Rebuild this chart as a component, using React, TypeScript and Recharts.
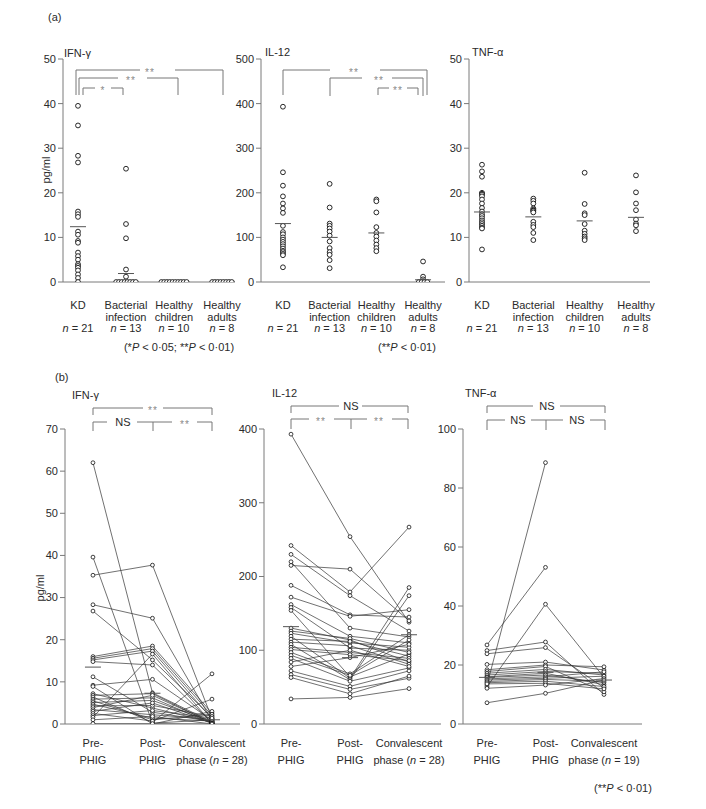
import React from 'react';
import { ComposedChart, Line, Scatter, XAxis, YAxis } from 'recharts';

const FONT = '"Liberation Sans", Arial, Helvetica, sans-serif';
const AXIS = '#7a7a7a';
const INK = '#2a2a2a';

// ---- (a) group comparison ----
const groupRows = [
    ['KD', '', 'n = 21'],
    ['Bacterial', 'infection', 'n = 13'],
    ['Healthy', 'children', 'n = 10'],
    ['Healthy', 'adults', 'n = 8'],
];

const ifnKD = [39.5, 35.1, 28.3, 26.8, 15.8, 15.2, 14.6, 11.3, 10.6, 9.2, 8.8, 6.6, 5.8, 5.0, 4.0, 3.6, 3.2, 2.6, 1.7, 0.9, 0];
const ifnBact = [25.4, 13.0, 9.8, 2.8, 1.2, 0, 0, 0, 0, 0, 0, 0, 0];
const ifnChild = [0, 0, 0, 0, 0, 0, 0, 0, 0, 0];
const ifnAdult = [0, 0, 0, 0, 0, 0, 0, 0];
const ifnMid = [12.4, 1.9, null, null];

const il12KD = [393, 246, 216, 192, 176, 165, 155, 126, 112, 107, 100, 95, 90, 85, 80, 75, 70, 67, 63, 60, 33];
const il12Bact = [220, 167, 131, 126, 120, 113, 104, 91, 76, 67, 61, 49, 31];
const il12Child = [185, 181, 156, 123, 110, 102, 93, 84, 76, 69];
const il12Adult = [46, 12, 6, 2, 0, 0, 0, 0];
const il12Mid = [131, 100, 110, 5];

const tnfKD = [26.3, 24.8, 23.6, 20.0, 19.8, 19.6, 19.2, 18.5, 17.6, 16.6, 15.8, 15.2, 14.8, 14.3, 13.8, 13.4, 13.0, 12.6, 12.2, 12.0, 7.3];
const tnfBact = [18.7, 18.2, 17.6, 16.5, 16.2, 16.0, 15.9, 15.6, 13.5, 12.8, 12.3, 11.0, 9.4];
const tnfChild = [24.5, 17.5, 15.4, 15.0, 13.0, 11.5, 10.8, 10.2, 9.8, 9.4];
const tnfAdult = [23.9, 20.1, 17.6, 16.1, 14.0, 13.1, 12.7, 11.4];
const tnfMid = [15.7, 14.6, 13.7, 14.5];

// ---- (b) PHIG time course ----
const phigRows = [
    ['Pre-', 'PHIG'],
    ['Post-', 'PHIG'],
    ['Convalescent', 'phase (n = 28)'],
];
const phigRows19 = [
    ['Pre-', 'PHIG'],
    ['Post-', 'PHIG'],
    ['Convalescent', 'phase (n = 19)'],
];

const ifnPre = [62.0, 39.6, 35.3, 28.3, 26.8, 16.0, 15.6, 15.2, 14.8, 11.2, 9.2, 8.9, 7.2, 6.8, 6.4, 5.9, 5.5, 5.1, 4.7, 4.3, 3.9, 3.4, 3.0, 2.5, 2.0, 1.6, 1.0, 0.1];
const ifnPost = [7.4, 0.2, 37.7, 25.1, 15.2, 18.5, 17.9, 17.3, 14.0, 2.8, 10.6, 0.0, 3.8, 7.2, 0.4, 6.2, 1.0, 5.6, 1.4, 4.4, 6.8, 2.2, 5.0, 0.7, 3.2, 16.6, 1.8, 0.1];
const ifnConv = [0.5, 1.0, 1.3, 0.8, 1.6, 2.6, 2.0, 1.2, 0.3, 0.6, 0.9, 3.0, 0.4, 0.2, 11.9, 0.1, 2.3, 0.5, 0.7, 1.8, 0.3, 1.1, 0.2, 5.9, 1.4, 0.1, 0, 0];
const ifnPhigMid = [13.5, 7.3, 1.0];

const il12Pre = [393, 242, 230, 220, 215, 188, 172, 162, 158, 154, 130, 126, 123, 119, 115, 111, 108, 104, 101, 97, 93, 89, 84, 78, 72, 67, 63, 34];
const il12Post = [254, 179, 174, 130, 210, 148, 146, 119, 103, 64, 114, 116, 110, 62, 112, 106, 60, 97, 94, 68, 66, 58, 100, 90, 51, 47, 41, 36];
const il12Conv = [138, 267, 126, 118, 140, 145, 155, 110, 100, 95, 84, 97, 104, 185, 92, 81, 174, 89, 86, 121, 114, 76, 78, 108, 72, 62, 65, 48];
const il12PhigMid = [132, 90, 121];

const tnfPre = [13.2, 26.8, 12.6, 24.9, 23.8, 20.2, 18.4, 17.8, 17.2, 16.6, 16.0, 15.8, 15.3, 14.9, 14.4, 14.0, 13.6, 12.1, 7.2];
const tnfPost = [88.6, 53.1, 40.6, 27.8, 25.9, 21.0, 20.0, 19.5, 18.5, 17.8, 17.2, 16.6, 16.0, 15.5, 15.1, 14.5, 13.8, 13.2, 10.4];
const tnfConv = [null, null, 15.8, 10.0, 12.3, 18.3, 19.4, 10.9, 16.6, 17.2, 13.3, 14.0, 17.7, 16.2, 14.5, 12.7, 11.9, 15.4, 14.9];
const tnfPhigMid = [15.8, 17.5, 14.9];

// significance brackets (annotation, page pixels)
const brackets = [
    { y: 70, drop: 95, ends: [76, 223], segs: [[76, 140], [175, 223]], labels: [[150, '**']] },
    { y: 78, drop: 95, ends: [79, 178], segs: [[79, 118], [147, 178]], labels: [[131, '**']] },
    { y: 88, drop: 95, ends: [83, 123], segs: [[83, 95], [111, 123]], labels: [[103, '*']] },
    { y: 70, drop: 95, ends: [283, 427], segs: [[283, 330], [380, 427]], labels: [[354, '**']] },
    { y: 78, drop: 96, ends: [330, 423], segs: [[330, 362], [392, 423]], labels: [[379, '**']] },
    { y: 88, drop: 95, ends: [378, 418], segs: [[378, 389], [407, 418]], labels: [[398, '**']] },
    { y: 408, drop: 415, ends: [93, 212], segs: [[93, 143], [163, 212]], labels: [[153, '**']] },
    { y: 422, drop: 431, ends: [93, 153, 212], segs: [[93, 107], [137, 172], [197, 212]], labels: [[123, 'NS'], [185, '**']] },
    { y: 406, drop: 413, ends: [291, 408], segs: [[291, 339], [362, 408]], labels: [[351, 'NS']] },
    { y: 419, drop: 429, ends: [291, 351, 408], segs: [[291, 309], [334, 367], [392, 408]], labels: [[321, '**'], [379, '**']] },
    { y: 406, drop: 413, ends: [487, 605], segs: [[487, 533], [560, 605]], labels: [[547, 'NS']] },
    { y: 420, drop: 430, ends: [487, 546, 605], segs: [[487, 505], [531, 563], [590, 605]], labels: [[518, 'NS'], [577, 'NS']] },
];

const notes = [
    { x: 48, y: 21, s: '(a)', a: 'start' },
    { x: 64, y: 57, s: 'IFN-γ', a: 'start' },
    { x: 265, y: 56, s: 'IL-12', a: 'start' },
    { x: 472, y: 56, s: 'TNF-α', a: 'start' },
    { x: 179, y: 351, s: '(*P < 0·05; **P < 0·01)', a: 'middle' },
    { x: 407, y: 351, s: '(**P < 0·01)', a: 'middle' },
    { x: 55, y: 381, s: '(b)', a: 'start' },
    { x: 72, y: 399, s: 'IFN-γ', a: 'start' },
    { x: 272, y: 397, s: 'IL-12', a: 'start' },
    { x: 465, y: 397, s: 'TNF-α', a: 'start' },
    { x: 623, y: 792, s: '(**P < 0·01)', a: 'middle' },
];

const rich = (s: string) =>
    s.split(/(\bn\b|\bP\b)/).map((part, i) =>
        part === 'n' || part === 'P' ? (
            <tspan key={i} fontStyle="italic">{part}</tspan>
        ) : (
            <tspan key={i}>{part}</tspan>
        ),
    );

const toPoints = (groups: number[][]) =>
    groups.flatMap((vals, i) =>
        vals.map((v, j) => ({
            x: i,
            y: v,
            k: vals.slice(0, j).filter((w) => w === v).length,
            m: vals.filter((w) => w === v).length,
        })),
    );

const toMid = (vals: (number | null)[]) =>
    vals.map((v, i) => ({ x: i, y: v })).filter((d) => d.y !== null);

const Ring = (p: any) => {
    const { cx, cy, payload } = p;
    const dx = payload.m > 1 ? (payload.k - (payload.m - 1) / 2) * 2.8 : 0;
    return <circle cx={cx + dx} cy={cy} r={2.4} fill="#fff" stroke="#111" strokeWidth={0.9} />;
};

const Dash = (p: any) => (
    <line x1={p.cx - 8} x2={p.cx + 8} y1={p.cy} y2={p.cy} stroke="#555" strokeWidth={1} />
);

const CatTick = (p: any) => {
    const rows: string[] = p.rows[p.payload.value] || [];
    return (
        <g>
            {rows.map((r, i) => (
                <text key={i} x={p.x} y={p.y + p.start + i * p.gap} textAnchor="middle" fontSize={11} fontFamily={FONT} fill={INK}>
                    {rich(r)}
                </text>
            ))}
        </g>
    );
};

const YW = 40;
const MT = 10;
const MR = 10;
const XH = 60;

interface FrameProps {
    box: { l: number; t: number; r: number; b: number };
    xDomain: [number, number];
    xTicks: number[];
    yTicks: number[];
    rows: string[][];
    start: number;
    gap: number;
    children: React.ReactNode;
}

const Frame = ({ box, xDomain, xTicks, yTicks, rows, start, gap, children }: FrameProps) => (
    <div style={{ position: 'absolute', left: box.l - YW, top: box.t - MT }}>
        <ComposedChart
            width={box.r - box.l + YW + MR}
            height={box.b - box.t + MT + XH}
            margin={{ top: MT, right: MR, bottom: 0, left: 0 }}
        >
            <XAxis
                type="number"
                dataKey="x"
                domain={xDomain}
                ticks={xTicks}
                interval={0}
                allowDataOverflow
                height={XH}
                tickLine={false}
                tickSize={0}
                tickMargin={0}
                axisLine={{ stroke: AXIS }}
                tick={(t: any) => <CatTick {...t} rows={rows} start={start} gap={gap} />}
            />
            <YAxis
                type="number"
                dataKey="y"
                domain={[yTicks[0], yTicks[yTicks.length - 1]]}
                ticks={yTicks}
                interval={0}
                allowDataOverflow
                width={YW}
                tickSize={5}
                tickLine={{ stroke: AXIS }}
                axisLine={{ stroke: AXIS }}
                tick={{ fill: INK, fontSize: 11, fontFamily: FONT }}
            />
            {children}
        </ComposedChart>
    </div>
);

const dotPanel = (groups: number[][], mids: (number | null)[]) => [
    <Scatter key="pts" data={toPoints(groups)} dataKey="y" shape={Ring} isAnimationActive={false} />,
    <Scatter key="mid" data={toMid(mids)} dataKey="y" shape={Dash} isAnimationActive={false} />,
];

const pairPanel = (pre: number[], post: number[], conv: (number | null)[], mids: number[]) => [
    ...pre.map((v, i) => (
        <Line
            key={`s${i}`}
            data={[{ x: 0, y: v }, { x: 1, y: post[i] }, { x: 2, y: conv[i] }]}
            dataKey="y"
            type="linear"
            stroke="#333"
            strokeWidth={0.7}
            dot={{ r: 1.9, fill: '#fff', stroke: '#111', strokeWidth: 0.8 }}
            activeDot={false}
            isAnimationActive={false}
        />
    )),
    <Scatter key="mid" data={toMid(mids)} dataKey="y" shape={Dash} isAnimationActive={false} />,
];

const Overlay = () => (
    <svg width={706} height={809} style={{ position: 'absolute', left: 0, top: 0, pointerEvents: 'none' }}>
        {brackets.map((b, i) => (
            <g key={i} stroke="#777" strokeWidth={1} fill="none">
                {b.ends.map((x, j) => (
                    <line key={`e${j}`} x1={x} x2={x} y1={b.y} y2={b.drop} />
                ))}
                {b.segs.map(([a, c], j) => (
                    <line key={`s${j}`} x1={a} x2={c} y1={b.y} y2={b.y} />
                ))}
                {b.labels.map(([x, s], j) =>
                    s === 'NS' ? (
                        <text key={`t${j}`} x={x} y={b.y + 4} textAnchor="middle" fontSize={11} fontFamily={FONT} fill={INK} stroke="none">
                            {s}
                        </text>
                    ) : (
                        <text key={`t${j}`} x={x} y={b.y + 6} textAnchor="middle" fontSize={10} letterSpacing={1} fontFamily={FONT} fill="#888" stroke="none">
                            {s}
                        </text>
                    ),
                )}
            </g>
        ))}
        {notes.map((n, i) => (
            <text key={i} x={n.x} y={n.y} textAnchor={n.a as any} fontSize={11} fontFamily={FONT} fill={INK}>
                {rich(n.s)}
            </text>
        ))}
        <text transform="translate(50,170) rotate(-90)" textAnchor="middle" fontSize={11} fontFamily={FONT} fill={INK}>
            pg/ml
        </text>
        <text transform="translate(44,588) rotate(-90)" textAnchor="middle" fontSize={11} fontFamily={FONT} fill={INK}>
            pg/ml
        </text>
    </svg>
);

const App = () => (
    <div style={{ position: 'absolute', left: 0, top: 0, width: 706, height: 809, background: '#fff', fontFamily: FONT }}>
        <Frame box={{ l: 63, t: 59, r: 235, b: 282 }} xDomain={[-0.3125, 3.271]} xTicks={[0, 1, 2, 3]} yTicks={[0, 10, 20, 30, 40, 50]} rows={groupRows} start={27} gap={11.5}>
            {dotPanel([ifnKD, ifnBact, ifnChild, ifnAdult], ifnMid)}
        </Frame>
        <Frame box={{ l: 261, t: 59, r: 445, b: 282 }} xDomain={[-0.47, 3.47]} xTicks={[0, 1, 2, 3]} yTicks={[0, 100, 200, 300, 400, 500]} rows={groupRows} start={27} gap={11.5}>
            {dotPanel([il12KD, il12Bact, il12Child, il12Adult], il12Mid)}
        </Frame>
        <Frame box={{ l: 469, t: 59, r: 650, b: 282 }} xDomain={[-0.253, 3.273]} xTicks={[0, 1, 2, 3]} yTicks={[0, 10, 20, 30, 40, 50]} rows={groupRows} start={27} gap={11.5}>
            {dotPanel([tnfKD, tnfBact, tnfChild, tnfAdult], tnfMid)}
        </Frame>
        <Frame box={{ l: 65, t: 429, r: 240, b: 724 }} xDomain={[-0.47, 2.471]} xTicks={[0, 1, 2]} yTicks={[0, 10, 20, 30, 40, 50, 60, 70]} rows={phigRows} start={23} gap={17}>
            {pairPanel(ifnPre, ifnPost, ifnConv, ifnPhigMid)}
        </Frame>
        <Frame box={{ l: 264, t: 429, r: 441, b: 724 }} xDomain={[-0.458, 2.542]} xTicks={[0, 1, 2]} yTicks={[0, 100, 200, 300, 400]} rows={phigRows} start={23} gap={17}>
            {pairPanel(il12Pre, il12Post, il12Conv, il12PhigMid)}
        </Frame>
        <Frame box={{ l: 463, t: 429, r: 642, b: 724 }} xDomain={[-0.41, 2.65]} xTicks={[0, 1, 2]} yTicks={[0, 20, 40, 60, 80, 100]} rows={phigRows19} start={23} gap={17}>
            {pairPanel(tnfPre, tnfPost, tnfConv, tnfPhigMid)}
        </Frame>
        <Overlay />
    </div>
);

export default App;
